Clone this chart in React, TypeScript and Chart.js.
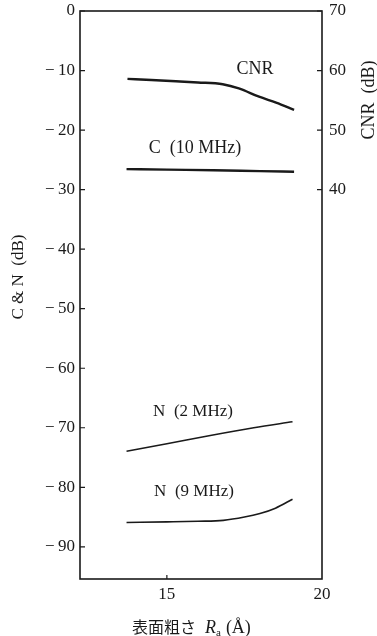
import React, { useEffect, useRef } from "react";
import { Chart, registerables } from "chart.js";

Chart.register(...registerables);

// Data (x = surface roughness Ra in Å)
const cnrX = [13.73, 14.5, 15.29, 16.0, 16.8, 17.32, 17.97, 18.52, 19.1];
const cnrY = [58.6, 58.4, 58.2, 58.0, 57.7, 57.0, 55.6, 54.6, 53.4];
const cX = [13.7, 15.0, 16.5, 18.0, 19.1];
const cY = [-26.55, -26.65, -26.75, -26.9, -27.0];
const n2X = [13.7, 15.0, 16.4, 17.8, 19.05];
const n2Y = [-73.95, -72.7, -71.3, -70.0, -69.0];
const n9X = [13.7, 15.0, 16.0, 16.82, 17.5, 18.0, 18.5, 19.05];
const n9Y = [-85.9, -85.8, -85.7, -85.55, -85.0, -84.4, -83.5, -82.0];
const leftTicks = [0, -10, -20, -30, -40, -50, -60, -70, -80, -90];
const rightTicks = [40, 50, 60, 70];
const xTicks = [15, 20];

const serif = "'Liberation Serif', 'DejaVu Serif', serif";
const ink = "#1a1a1a";

const toPts = (xs: number[], ys: number[]) => xs.map((x, i) => ({ x, y: ys[i] }));

const decor = {
  id: "decor",
  afterDraw(chart: any) {
    const ctx = chart.ctx;
    const a = chart.chartArea;
    const y = chart.scales.y;
    const y2 = chart.scales.y2;
    const x = chart.scales.x;
    ctx.save();
    ctx.strokeStyle = ink;
    ctx.lineWidth = 1.6;
    ctx.strokeRect(a.left, a.top, a.right - a.left, a.bottom - a.top);
    ctx.lineWidth = 1.2;
    ctx.beginPath();
    leftTicks.forEach((v) => {
      const py = y.getPixelForValue(v);
      ctx.moveTo(a.left, py);
      ctx.lineTo(a.left + 5, py);
    });
    rightTicks.forEach((v) => {
      const py = y2.getPixelForValue(v);
      ctx.moveTo(a.right - 5, py);
      ctx.lineTo(a.right, py);
    });
    const px15 = x.getPixelForValue(15);
    ctx.moveTo(px15, a.bottom);
    ctx.lineTo(px15, a.bottom - 4);
    ctx.stroke();

    // series labels
    ctx.fillStyle = ink;
    ctx.textAlign = "center";
    ctx.textBaseline = "middle";
    ctx.font = `18px ${serif}`;
    ctx.fillText("CNR", 255, 69);
    ctx.fillText("C  (10 MHz)", 195, 148);
    ctx.font = `17px ${serif}`;
    ctx.fillText("N  (2 MHz)", 193, 412);
    ctx.fillText("N  (9 MHz)", 194, 492);

    // left axis title
    ctx.save();
    ctx.translate(19, 277);
    ctx.rotate(-Math.PI / 2);
    ctx.font = `17px ${serif}`;
    ctx.fillText("C & N  (dB)", 0, 0);
    ctx.restore();

    // right axis title
    ctx.save();
    ctx.translate(369, 100);
    ctx.rotate(-Math.PI / 2);
    ctx.font = `18px ${serif}`;
    ctx.fillText("CNR  (dB)", 0, 0);
    ctx.restore();

    // x axis title
    ctx.textAlign = "left";
    ctx.textBaseline = "alphabetic";
    let cx = 132;
    const base = 633;
    ctx.font = "16px 'Noto Sans CJK JP', sans-serif";
    ctx.fillText("表面粗さ", cx, base);
    cx += ctx.measureText("表面粗さ").width + 9;
    ctx.font = `italic 18px ${serif}`;
    ctx.fillText("R", cx, base);
    cx += ctx.measureText("R").width;
    ctx.font = `11px ${serif}`;
    ctx.fillText("a", cx, base + 3);
    cx += ctx.measureText("a").width + 5;
    ctx.font = `18px ${serif}`;
    ctx.fillText("(Å)", cx, base);
    ctx.restore();
  },
};

export default function App() {
  const ref = useRef<HTMLCanvasElement>(null);
  useEffect(() => {
    if (!ref.current) return;
    const lineDs = (label: string, data: any[], axis: string, width: number) => ({
      label,
      data,
      yAxisID: axis,
      borderColor: ink,
      borderWidth: width,
      pointRadius: 0,
      fill: false,
      cubicInterpolationMode: "monotone" as const,
    });
    const chart = new Chart(ref.current, {
      type: "line",
      data: {
        datasets: [
          lineDs("CNR", toPts(cnrX, cnrY), "y2", 2.4),
          lineDs("C (10 MHz)", toPts(cX, cY), "y", 2.4),
          lineDs("N (2 MHz)", toPts(n2X, n2Y), "y", 1.5),
          lineDs("N (9 MHz)", toPts(n9X, n9Y), "y", 1.6),
        ],
      },
      options: {
        animation: false,
        responsive: false,
        maintainAspectRatio: false,
        layout: { padding: { top: 11, left: 0, right: 0, bottom: 0 } },
        plugins: { legend: { display: false }, tooltip: { enabled: false } },
        scales: {
          x: {
            type: "linear",
            min: 12.2,
            max: 20,
            grid: { display: false, drawTicks: false },
            border: { display: false },
            afterBuildTicks: (s: any) => {
              s.ticks = xTicks.map((v) => ({ value: v }));
            },
            afterFit: (s: any) => {
              s.height = 57;
              s.paddingLeft = 0;
              s.paddingRight = 0;
            },
            ticks: {
              padding: 5,
              color: ink,
              font: { family: serif, size: 17 },
              maxRotation: 0,
              callback: (v: any) => String(v),
            },
          },
          y: {
            type: "linear",
            position: "left",
            min: -95.4,
            max: 0,
            grid: { display: false, drawTicks: false },
            border: { display: false },
            afterBuildTicks: (s: any) => {
              s.ticks = leftTicks.map((v) => ({ value: v }));
            },
            afterFit: (s: any) => {
              s.width = 80;
              s.paddingTop = 0;
              s.paddingBottom = 0;
            },
            ticks: {
              padding: 5,
              color: ink,
              font: { family: serif, size: 17 },
              callback: (v: any) => (v === 0 ? "0" : "−\u2009" + Math.abs(v)),
            },
          },
          y2: {
            type: "linear",
            position: "right",
            min: -25.4,
            max: 70,
            grid: { display: false, drawTicks: false },
            border: { display: false },
            afterBuildTicks: (s: any) => {
              s.ticks = rightTicks.map((v) => ({ value: v }));
            },
            afterFit: (s: any) => {
              s.width = 55;
              s.paddingTop = 0;
              s.paddingBottom = 0;
            },
            ticks: {
              padding: 7,
              color: ink,
              font: { family: serif, size: 17 },
              callback: (v: any) => String(v),
            },
          },
        },
      },
      plugins: [decor],
    });
    return () => chart.destroy();
  }, []);
  return (
    <div style={{ position: "absolute", left: 0, top: 0, width: 377, height: 636, background: "#fff" }}>
      <canvas ref={ref} width={377} height={636} style={{ display: "block" }} />
    </div>
  );
}
